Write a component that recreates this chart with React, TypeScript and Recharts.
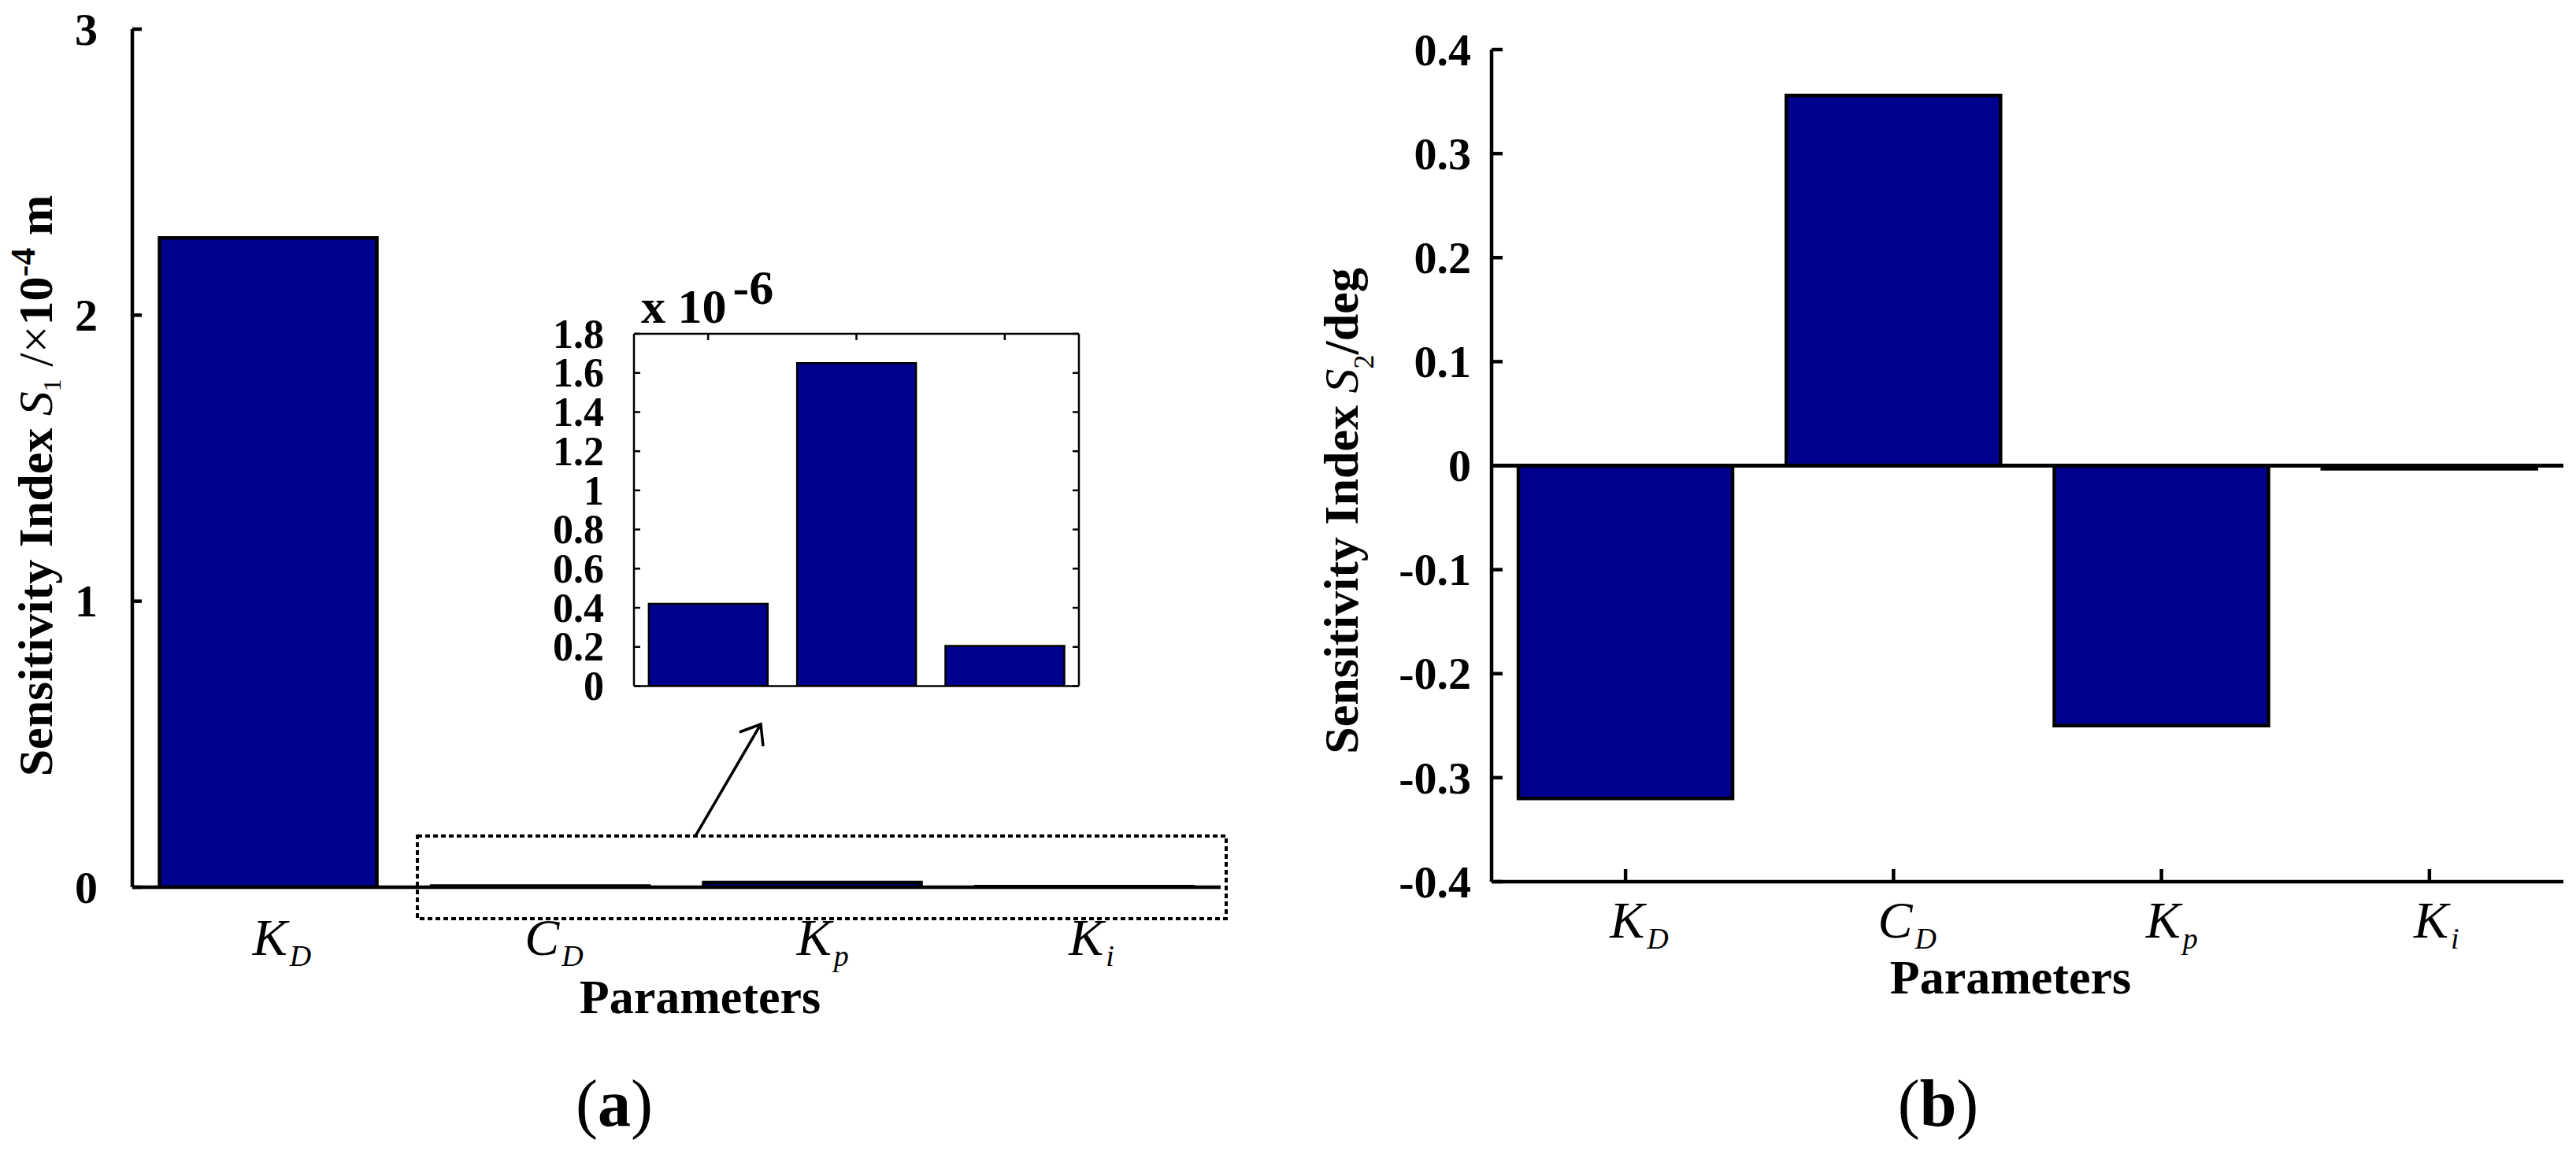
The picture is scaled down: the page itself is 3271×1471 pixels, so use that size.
import React from 'react';
import { BarChart, Bar, XAxis, YAxis, ReferenceLine } from 'recharts';

// ---------- data ----------
const categories = ['KD', 'CD', 'Kp', 'Ki'];
const categoryBase = ['K', 'C', 'K', 'K'];
const categorySub = ['D', 'D', 'p', 'i'];
// (a) Sensitivity index S1, in units of 1e-4 m
const s1Values = [2.27, 0.0042, 0.0165, 0.00205];
const s1Ticks = [0, 1, 2, 3];
// (b) Sensitivity index S2, deg
const s2Values = [-0.32, 0.356, -0.25, -0.003];
const s2Ticks = [-0.4, -0.3, -0.2, -0.1, 0, 0.1, 0.2, 0.3, 0.4];
// inset of (a), in units of 1e-6 m
const insetCategories = ['CD', 'Kp', 'Ki'];
const insetValues = [0.42, 1.65, 0.205];
const insetTicks = [0, 0.2, 0.4, 0.6, 0.8, 1, 1.2, 1.4, 1.6, 1.8];

const s1Data = categories.map((c, i) => ({ name: c, value: s1Values[i] }));
const s2Data = categories.map((c, i) => ({ name: c, value: s2Values[i] }));
const insetData = insetCategories.map((c, i) => ({ name: c, value: insetValues[i] }));

const FONT = '"Liberation Serif", "Times New Roman", "DejaVu Serif", serif';
const BAR_FILL = '#00008F';

const fmt1 = (v: number) => (v === 0 ? '0' : Number.isInteger(v) ? String(v) : v.toFixed(1));

const makeYTick = (len: number, gap: number, fontSize: number, sw: number, showLabel = true) =>
  (props: any) => {
    const { x, y, payload } = props;
    return (
      <g>
        <line x1={x} y1={y} x2={x + len} y2={y} stroke="#000" strokeWidth={sw} />
        {showLabel && (
          <text x={x - gap} y={y} dy="0.34em" textAnchor="end" fontFamily={FONT}
            fontWeight="bold" fontSize={fontSize} fill="#000">
            {fmt1(payload.value)}
          </text>
        )}
      </g>
    );
  };

const makeXTick = (labelDy: number, tickLen: number, sw: number) =>
  (props: any) => {
    const { x, y, payload } = props;
    const idx = categories.indexOf(payload.value);
    return (
      <g>
        {tickLen !== 0 && (
          <line x1={x} y1={y} x2={x} y2={y - tickLen} stroke="#000" strokeWidth={sw} />
        )}
        <text x={x - 20} y={y + labelDy} textAnchor="start" fontFamily={FONT} fill="#000">
          <tspan fontStyle="italic" fontSize={66}>{categoryBase[idx]}</tspan>
          <tspan fontStyle="italic" fontSize={38} dx={3} dy={14}>{categorySub[idx]}</tspan>
        </text>
      </g>
    );
  };

const insetTopTick = (props: any) => {
  const { x, y } = props;
  return <line x1={x} y1={y} x2={x} y2={y + 8} stroke="#000" strokeWidth={2.5} />;
};

const insetRightTick = (props: any) => {
  const { x, y } = props;
  return <line x1={x} y1={y} x2={x - 8} y2={y} stroke="#000" strokeWidth={2.5} />;
};

export default function App() {
  return (
    <div style={{ position: 'absolute', left: 0, top: 0, width: 3271, height: 1471, background: '#fff', overflow: 'hidden' }}>
      {/* (a) main chart */}
      <div style={{ position: 'absolute', left: 0, top: 0 }}>
        <BarChart width={1600} height={1300} data={s1Data} barCategoryGap="10%"
          margin={{ top: 37, left: 68, right: 50, bottom: 73 }}>
          <XAxis dataKey="name" height={100} interval={0} tickLine={false} tickSize={0} tickMargin={0}
            axisLine={{ stroke: '#000', strokeWidth: 4.5 }} tick={makeXTick(86, 0, 4.5)} />
          <YAxis type="number" domain={[0, 3]} ticks={s1Ticks} width={100} interval={0}
            tickLine={false} tickSize={0} tickMargin={0} allowDataOverflow
            axisLine={{ stroke: '#000', strokeWidth: 4.5 }} tick={makeYTick(12, 44, 58, 4.5)} />
          <Bar dataKey="value" fill={BAR_FILL} stroke="#000" strokeWidth={4.5} isAnimationActive={false} />
        </BarChart>
      </div>

      {/* (b) main chart */}
      <div style={{ position: 'absolute', left: 1650, top: 0 }}>
        <BarChart width={1621} height={1300} data={s2Data} barCategoryGap="10%"
          margin={{ top: 63, left: 144, right: 16, bottom: 80 }}>
          <XAxis dataKey="name" height={100} interval={0} tickLine={false} tickSize={0} tickMargin={0}
            axisLine={{ stroke: '#000', strokeWidth: 4.5 }} tick={makeXTick(71, 16, 4.5)} />
          <YAxis type="number" domain={[-0.4, 0.4]} ticks={s2Ticks} width={100} interval={0}
            tickLine={false} tickSize={0} tickMargin={0} allowDataOverflow
            axisLine={{ stroke: '#000', strokeWidth: 4.5 }} tick={makeYTick(14, 26, 58, 4.5)} />
          <Bar dataKey="value" fill={BAR_FILL} stroke="#000" strokeWidth={4.5} isAnimationActive={false} />
          <ReferenceLine y={0} stroke="#000" strokeWidth={5} />
        </BarChart>
      </div>

      {/* inset of (a) */}
      <div style={{ position: 'absolute', left: 640, top: 330 }}>
        <BarChart width={760} height={600} data={insetData} barCategoryGap="10%"
          margin={{ top: 84, left: 65, right: 20, bottom: 48.5 }}>
          <XAxis xAxisId="bottom" dataKey="name" orientation="bottom" height={10} tick={false}
            tickLine={false} axisLine={{ stroke: '#000', strokeWidth: 2.5 }} />
          <XAxis xAxisId="top" dataKey="name" orientation="top" height={10} interval={0}
            tickLine={false} tickSize={0} tickMargin={0}
            axisLine={{ stroke: '#000', strokeWidth: 2.5 }} tick={insetTopTick} />
          <YAxis yAxisId="left" type="number" domain={[0, 1.8]} ticks={insetTicks} width={100} interval={0}
            tickLine={false} tickSize={0} tickMargin={0} allowDataOverflow
            axisLine={{ stroke: '#000', strokeWidth: 2.5 }} tick={makeYTick(8, 38, 52, 2.5)} />
          <YAxis yAxisId="right" orientation="right" type="number" domain={[0, 1.8]} ticks={insetTicks}
            width={10} interval={0} tickLine={false} tickSize={0} tickMargin={0} allowDataOverflow
            axisLine={{ stroke: '#000', strokeWidth: 2.5 }} tick={insetRightTick} />
          <Bar xAxisId="bottom" yAxisId="left" dataKey="value" fill={BAR_FILL} stroke="#000"
            strokeWidth={2.5} isAnimationActive={false} />
        </BarChart>
      </div>

      {/* annotations */}
      <svg width={3271} height={1471} style={{ position: 'absolute', left: 0, top: 0, pointerEvents: 'none' }}>
        {/* y-axis title (a) */}
        <text transform="translate(66,617) rotate(-90)" textAnchor="middle" fontFamily={FONT}
          fontSize={62} fontWeight="bold" fill="#000">
          <tspan>{'Sensitivity Index '}</tspan>
          <tspan fontStyle="italic" fontWeight="normal">S</tspan>
          <tspan fontWeight="normal" fontSize={32} dy={11}>1</tspan>
          <tspan fontWeight="normal" dy={-11}>{' /×'}</tspan>
          <tspan>10</tspan>
          <tspan fontSize={44} dy={-22}>-4</tspan>
          <tspan dy={22}>{' m'}</tspan>
        </text>

        {/* y-axis title (b) */}
        <text transform="translate(1724,649) rotate(-90)" textAnchor="middle" fontFamily={FONT}
          fontSize={62} fontWeight="bold" fill="#000">
          <tspan>{'Sensitivity Index '}</tspan>
          <tspan fontStyle="italic" fontWeight="normal">S</tspan>
          <tspan fontWeight="normal" fontSize={36} dy={20}>2</tspan>
          <tspan dy={-20}>/deg</tspan>
        </text>

        {/* x-axis titles */}
        <text x={889} y={1287} textAnchor="middle" fontFamily={FONT} fontSize={62} fontWeight="bold" fill="#000">
          Parameters
        </text>
        <text x={2553} y={1262} textAnchor="middle" fontFamily={FONT} fontSize={62} fontWeight="bold" fill="#000">
          Parameters
        </text>

        {/* panel labels */}
        <text x={780} y={1430} textAnchor="middle" fontFamily={FONT} fontSize={84} fill="#000">
          (<tspan fontWeight="bold">a</tspan>)
        </text>
        <text x={2461} y={1430} textAnchor="middle" fontFamily={FONT} fontSize={84} fill="#000">
          (<tspan fontWeight="bold">b</tspan>)
        </text>

        {/* inset exponent */}
        <text x={814} y={410} fontFamily={FONT} fontSize={62} fontWeight="bold" fill="#000">
          x 10
          <tspan dx={8} dy={-24}>-6</tspan>
        </text>

        {/* dotted zoom box */}
        <rect x={530} y={1062} width={1027} height={105} fill="none" stroke="#000" strokeWidth={4}
          strokeDasharray="6 4" />

        {/* arrow */}
        <line x1={883} y1={1062} x2={966} y2={920} stroke="#000" strokeWidth={3.5} />
        <polyline points="939,930 966,920 969,948" fill="none" stroke="#000" strokeWidth={3.5} />
      </svg>
    </div>
  );
}
